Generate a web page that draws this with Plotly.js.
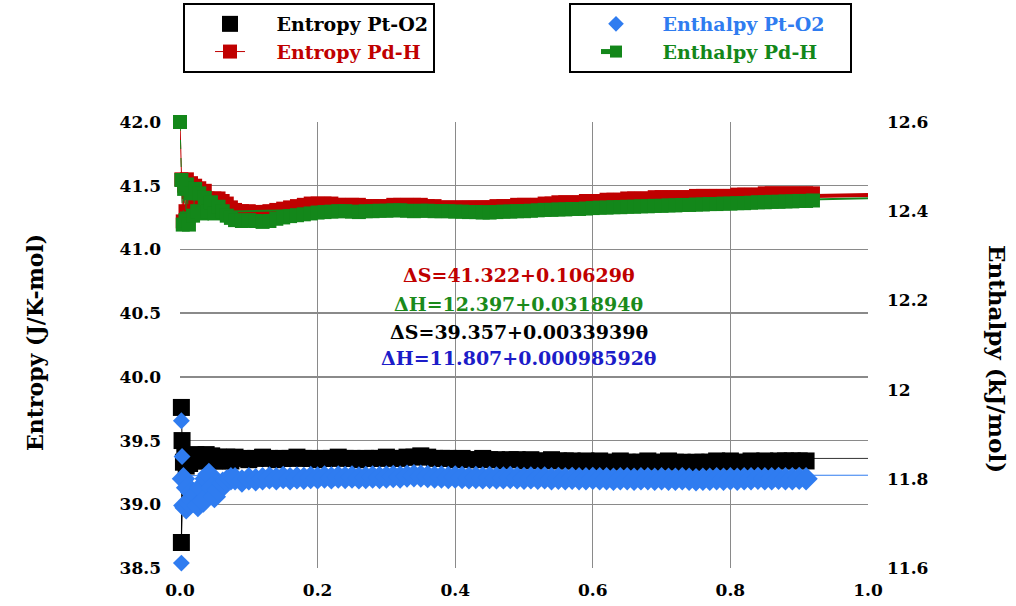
<!DOCTYPE html>
<html>
<head>
<meta charset="utf-8">
<script src="https://cdn.plot.ly/plotly-3.0.1.min.js"></script>
<style>html,body{margin:0;padding:0;background:#fff;}#chart{width:1016px;height:606px;}</style>
</head>
<body>
<div id="chart"></div>
<script>
// ---- data ----
const xPd = [0, 0.002, 0.004, 0.006, 0.008, 0.010, 0.013, 0.016, 0.019, 0.022, 0.025, 0.028, 0.032, 0.036, 0.040, 0.045, 0.050, 0.056, 0.062, 0.068, 0.074, 0.080,
  0.09, 0.10, 0.11, 0.12, 0.13, 0.14, 0.15, 0.16, 0.17, 0.18,
  0.19, 0.20, 0.21, 0.22, 0.23, 0.24, 0.25, 0.26, 0.27, 0.28,
  0.29, 0.30, 0.31, 0.32, 0.33, 0.34, 0.35, 0.36, 0.37, 0.38,
  0.39, 0.40, 0.41, 0.42, 0.43, 0.44, 0.45, 0.46, 0.47, 0.48,
  0.49, 0.50, 0.51, 0.52, 0.53, 0.54, 0.55, 0.56, 0.57, 0.58,
  0.59, 0.60, 0.61, 0.62, 0.63, 0.64, 0.65, 0.66, 0.67, 0.68,
  0.69, 0.70, 0.71, 0.72, 0.73, 0.74, 0.75, 0.76, 0.77, 0.78,
  0.79, 0.80, 0.81, 0.82, 0.83, 0.84, 0.85, 0.86, 0.87, 0.88,
  0.89, 0.90, 0.91, 0.92];
const entropyPd = [42.0, 41.55, 41.22, 41.50, 41.30, 41.55, 41.45, 41.52, 41.40, 41.50, 41.45, 41.48, 41.42, 41.46, 41.40, 41.39, 41.40, 41.40, 41.38, 41.36, 41.33, 41.31,
  41.30, 41.30, 41.29, 41.29, 41.30, 41.31, 41.32, 41.33, 41.34, 41.35,
  41.36, 41.36, 41.36, 41.36, 41.35, 41.35, 41.35, 41.35, 41.34, 41.34,
  41.34, 41.34, 41.35, 41.35, 41.35, 41.35, 41.35, 41.34, 41.34, 41.33,
  41.33, 41.33, 41.33, 41.33, 41.33, 41.33, 41.33, 41.34, 41.34, 41.34,
  41.35, 41.35, 41.35, 41.35, 41.36, 41.36, 41.37, 41.37, 41.37, 41.37,
  41.38, 41.38, 41.38, 41.39, 41.39, 41.39, 41.40, 41.40, 41.40, 41.40,
  41.41, 41.41, 41.41, 41.41, 41.41, 41.41, 41.42, 41.42, 41.42, 41.42,
  41.42, 41.42, 41.43, 41.43, 41.43, 41.43, 41.44, 41.44, 41.44, 41.44,
  41.44, 41.44, 41.44, 41.44];
const enthalpyPd = [12.6, 12.47, 12.37, 12.45, 12.38, 12.46, 12.37, 12.44, 12.39, 12.45, 12.40, 12.44, 12.395, 12.43, 12.40, 12.42, 12.395, 12.41, 12.40, 12.39, 12.385, 12.38,
  12.378, 12.38, 12.378, 12.376, 12.378, 12.383, 12.386, 12.389, 12.391, 12.393,
  12.395, 12.397, 12.398, 12.399, 12.40, 12.40, 12.399, 12.398, 12.40, 12.40,
  12.401, 12.401, 12.402, 12.402, 12.401, 12.40, 12.401, 12.401, 12.40, 12.40,
  12.40, 12.399, 12.399, 12.398, 12.398, 12.397, 12.397, 12.398, 12.399, 12.399,
  12.40, 12.40, 12.401, 12.402, 12.403, 12.403, 12.404, 12.404, 12.405, 12.405,
  12.406, 12.407, 12.408, 12.408, 12.409, 12.409, 12.41, 12.41, 12.411, 12.411,
  12.412, 12.412, 12.413, 12.413, 12.414, 12.414, 12.415, 12.415, 12.416, 12.416,
  12.417, 12.417, 12.418, 12.418, 12.419, 12.42, 12.42, 12.421, 12.421, 12.422,
  12.422, 12.423, 12.423, 12.424];

const xPt = [0.002, 0.003, 0.002, 0.005, 0.007, 0.009, 0.011, 0.014, 0.017, 0.020, 0.023, 0.026, 0.030, 0.034, 0.038, 0.042, 0.046, 0.050, 0.056, 0.062, 0.068, 0.074, 0.080,
  0.09, 0.10, 0.11, 0.12, 0.13, 0.14, 0.15, 0.16, 0.17, 0.18,
  0.19, 0.20, 0.21, 0.22, 0.23, 0.24, 0.25, 0.26, 0.27, 0.28,
  0.29, 0.30, 0.31, 0.32, 0.33, 0.34, 0.35, 0.36, 0.37, 0.38,
  0.39, 0.40, 0.41, 0.42, 0.43, 0.44, 0.45, 0.46, 0.47, 0.48,
  0.49, 0.50, 0.51, 0.52, 0.53, 0.54, 0.55, 0.56, 0.57, 0.58,
  0.59, 0.60, 0.61, 0.62, 0.63, 0.64, 0.65, 0.66, 0.67, 0.68,
  0.69, 0.70, 0.71, 0.72, 0.73, 0.74, 0.75, 0.76, 0.77, 0.78,
  0.79, 0.80, 0.81, 0.82, 0.83, 0.84, 0.85, 0.86, 0.87, 0.88,
  0.89, 0.90, 0.91];
const entropyPt = [39.76, 39.50, 38.70, 39.33, 39.38, 39.30, 39.36, 39.32, 39.38, 39.34, 39.39, 39.35, 39.38, 39.34, 39.39, 39.35, 39.38, 39.34, 39.37, 39.34, 39.37, 39.34, 39.37,
  39.36, 39.35, 39.36, 39.37, 39.36, 39.35, 39.36, 39.36, 39.37, 39.36,
  39.36, 39.35, 39.36, 39.36, 39.37, 39.36, 39.36, 39.35, 39.36, 39.36,
  39.36, 39.37, 39.36, 39.36, 39.37, 39.37, 39.38, 39.37, 39.36, 39.36,
  39.36, 39.35, 39.36, 39.35, 39.35, 39.36, 39.35, 39.35, 39.34, 39.35,
  39.35, 39.34, 39.35, 39.34, 39.34, 39.35, 39.34, 39.34, 39.34, 39.33,
  39.34, 39.33, 39.34, 39.33, 39.33, 39.34, 39.33, 39.33, 39.33, 39.34,
  39.33, 39.33, 39.34, 39.33, 39.33, 39.32, 39.33, 39.33, 39.33, 39.34,
  39.33, 39.34, 39.33, 39.33, 39.34, 39.33, 39.34, 39.33, 39.34, 39.34,
  39.34, 39.34, 39.34];
const enthalpyPt = [11.93, 11.85, 11.611, 11.80, 11.74, 11.735, 11.78, 11.745, 11.77, 11.75, 11.765, 11.74, 11.78, 11.75, 11.80, 11.81, 11.78, 11.76, 11.775, 11.79, 11.795, 11.80, 11.80,
  11.795, 11.80, 11.798, 11.80, 11.802, 11.80, 11.803, 11.80, 11.802, 11.801,
  11.803, 11.802, 11.804, 11.802, 11.804, 11.803, 11.804, 11.802, 11.803, 11.804,
  11.803, 11.804, 11.805, 11.804, 11.806, 11.807, 11.806, 11.805, 11.804, 11.804,
  11.803, 11.804, 11.803, 11.802, 11.803, 11.802, 11.803, 11.802, 11.802, 11.803,
  11.802, 11.801, 11.802, 11.801, 11.802, 11.80, 11.801, 11.80, 11.801, 11.80,
  11.80, 11.801, 11.80, 11.80, 11.799, 11.80, 11.80, 11.799, 11.80, 11.80,
  11.799, 11.80, 11.799, 11.799, 11.80, 11.799, 11.798, 11.799, 11.799, 11.80,
  11.799, 11.80, 11.799, 11.80, 11.80, 11.801, 11.80, 11.80, 11.801, 11.80,
  11.80, 11.801, 11.80];
const nOutliers = 3; // first three isolated Pt-O2 start-up points

// fitted lines (from the equations printed on the chart)
const fitX = [0, 1];
const fitEntropyPd = [41.322, 41.428];
const fitEnthalpyPd = [12.397, 12.429];
const fitEntropyPt = [39.357, 39.360];
const fitEnthalpyPt = [11.807, 11.808];

const equations = ['ΔS=41.322+0.10629θ', 'ΔH=12.397+0.031894θ', 'ΔS=39.357+0.0033939θ', 'ΔH=11.807+0.00098592θ'];
const eqColors = ['#c00000', '#1b8a1b', '#000000', '#1c1cc8'];
const xTicks = [0, 0.2, 0.4, 0.6, 0.8, 1.0];
const xTickText = ['0.0', '0.2', '0.4', '0.6', '0.8', '1.0'];
const y2Ticks = [11.6, 11.8, 12, 12.2, 12.4, 12.6];
const y2TickText = ['11.6', '11.8', '12', '12.2', '12.4', '12.6'];

const RED = '#c00000', GREEN = '#13871a', BLACK = '#000000', BLUE = '#2f7cf0';
const FONT = 'DejaVu Serif';
const pad = '\u00a0\u00a0\u00a0\u00a0';
const tail = '\u00a0\u00a0\u00a0';

const traces = [
  {x: fitX, y: fitEntropyPd, mode: 'lines', line: {color: RED, width: 4}, showlegend: false, hoverinfo: 'skip'},
  {x: fitX, y: fitEntropyPt, mode: 'lines', line: {color: '#333', width: 1}, showlegend: false, hoverinfo: 'skip'},
  {x: xPd, y: entropyPd, mode: 'lines+markers', name: pad + '<span style="color:' + RED + '">Entropy Pd-H</span>', legend: 'legend', legendrank: 2,
   line: {color: RED, width: 1}, marker: {symbol: 'square', size: 14, color: RED}, cliponaxis: false},
  {x: xPt, y: entropyPt, mode: 'lines', line: {color: BLACK, width: 1}, showlegend: false, hoverinfo: 'skip'},
  {x: xPt, y: entropyPt, mode: 'markers', name: pad + 'Entropy Pt-O2', legend: 'legend', legendrank: 1,
   marker: {symbol: 'square', size: 17, color: BLACK}, cliponaxis: false},
  {x: fitX, y: fitEnthalpyPd, yaxis: 'y2', mode: 'lines', line: {color: GREEN, width: 2}, showlegend: false, hoverinfo: 'skip'},
  {x: fitX, y: fitEnthalpyPt, yaxis: 'y2', mode: 'lines', line: {color: BLUE, width: 1}, showlegend: false, hoverinfo: 'skip'},
  {x: xPd, y: enthalpyPd, yaxis: 'y2', mode: 'lines+markers', name: pad + '<span style="color:' + GREEN + '">Enthalpy Pd-H</span>' + tail, legend: 'legend2', legendrank: 4,
   line: {color: GREEN, width: 1, dash: 'dash'}, marker: {symbol: 'square', size: 14, color: GREEN}, cliponaxis: false},
  {x: xPt.slice(0, nOutliers), y: enthalpyPt.slice(0, nOutliers), yaxis: 'y2', mode: 'markers', showlegend: false, hoverinfo: 'skip',
   marker: {symbol: 'diamond', size: 13, color: BLUE}, cliponaxis: false},
  {x: xPt.slice(nOutliers), y: enthalpyPt.slice(nOutliers), yaxis: 'y2', mode: 'markers', name: pad + '<span style="color:' + BLUE + '">Enthalpy Pt-O2</span>' + tail, legend: 'legend2', legendrank: 3,
   marker: {symbol: 'diamond', size: 18, color: BLUE}, cliponaxis: false}
];

const eqY = [0.657, 0.592, 0.529, 0.471];
const annotations = equations.map((t, i) => ({
  text: t, xref: 'paper', yref: 'paper', x: 0.4927, y: eqY[i], xanchor: 'center', yanchor: 'middle', showarrow: false,
  font: {family: FONT, size: 19, color: eqColors[i], weight: 'bold'}
}));
annotations.push({text: 'Entropy (J/K-mol)', xref: 'paper', yref: 'paper', x: -0.2108, y: 0.5067, textangle: -90, showarrow: false,
  xanchor: 'center', yanchor: 'middle', font: {family: FONT, size: 22, color: '#000', weight: 'bold'}});
annotations.push({text: 'Enthalpy (kJ/mol)', xref: 'paper', yref: 'paper', x: 1.189, y: 0.4686, textangle: 90, showarrow: false,
  xanchor: 'center', yanchor: 'middle', font: {family: FONT, size: 23, color: '#000', weight: 'bold'}});

const legendBase = {
  xref: 'paper', yref: 'paper', xanchor: 'left', yanchor: 'top', y: 1.2668,
  bgcolor: '#fff', bordercolor: '#000', borderwidth: 2,
  font: {family: FONT, size: 19, color: '#000', weight: 'bold'}, indentation: 25
};

const layout = {
  width: 1016, height: 606,
  margin: {l: 180, r: 148, t: 122, b: 38, autoexpand: false},
  paper_bgcolor: '#fff', plot_bgcolor: '#fff',
  font: {family: FONT, color: '#000'},
  xaxis: {range: [0, 1], tickvals: xTicks, ticktext: xTickText, showgrid: true, gridcolor: '#8a8a8a', gridwidth: 1.2,
    zeroline: false, showline: false, ticks: '', ticklabelstandoff: 10,
    tickfont: {family: FONT, size: 17, color: '#000', weight: 'bold'}},
  yaxis: {range: [38.5, 42], dtick: 0.5, tick0: 38.5, tickformat: '.1f', showgrid: true, gridcolor: '#8a8a8a', gridwidth: 1.5,
    zeroline: false, showline: false, ticks: '', ticklabelstandoff: 18,
    tickfont: {family: FONT, size: 17, color: '#000', weight: 'bold'}},
  yaxis2: {range: [11.6, 12.6], overlaying: 'y', side: 'right', tickvals: y2Ticks, ticktext: y2TickText, showgrid: false,
    zeroline: false, showline: false, ticks: '', ticklabelstandoff: 18,
    tickfont: {family: FONT, size: 17, color: '#000', weight: 'bold'}},
  legend: Object.assign({}, legendBase, {x: 0.0044, itemsizing: 'trace'}),
  legend2: Object.assign({}, legendBase, {x: 0.5654, itemsizing: 'constant'}),
  annotations: annotations,
  showlegend: true
};

Plotly.newPlot('chart', traces, layout, {staticPlot: true, displayModeBar: false});
</script>
</body>
</html>
